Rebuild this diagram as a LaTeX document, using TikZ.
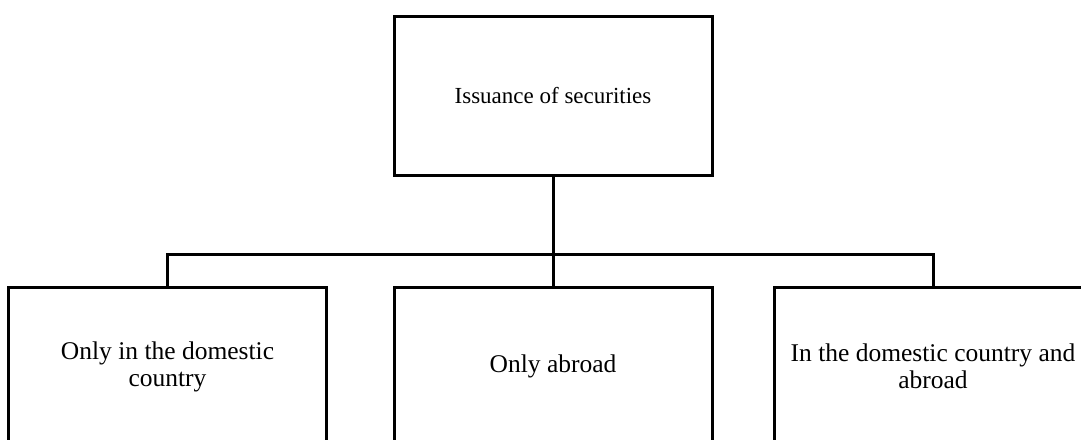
\documentclass[tikz,border=0pt]{standalone}
\usepackage{fontspec}
\setmainfont{Liberation Serif}
\begin{document}
\begin{tikzpicture}[x=1pt,y=-1pt,
  box/.style={draw=black, line width=3pt, minimum width=318pt, minimum height=159pt,
    inner sep=0pt, align=center, font=\fontsize{25.5}{27}\selectfont},
  link/.style={draw=black, line width=3pt}]
  \useasboundingbox (0,0) rectangle (1081,439);
  \clip (0,0) rectangle (1081,439);
  % root of the tree
  \node[box, font=\fontsize{23}{27}\selectfont] (root) at (553,95.5) {Issuance of securities};
  % the three ways of issuing
  \node[box] (dom) at (167.5,366.5) {Only in the domestic\\country};
  \node[box] (abr) at (553,366.5) {Only abroad};
  \node[box] (both) at (933,366.5) {In the domestic country and\\abroad};
  % connectors
  \coordinate (bus) at (553,254);
  \draw[link] (root.south) -- (bus);
  \draw[link] (dom.north) |- (bus) -| (both.north);
  \draw[link] (bus) -- (abr.north);
\end{tikzpicture}
\end{document}
